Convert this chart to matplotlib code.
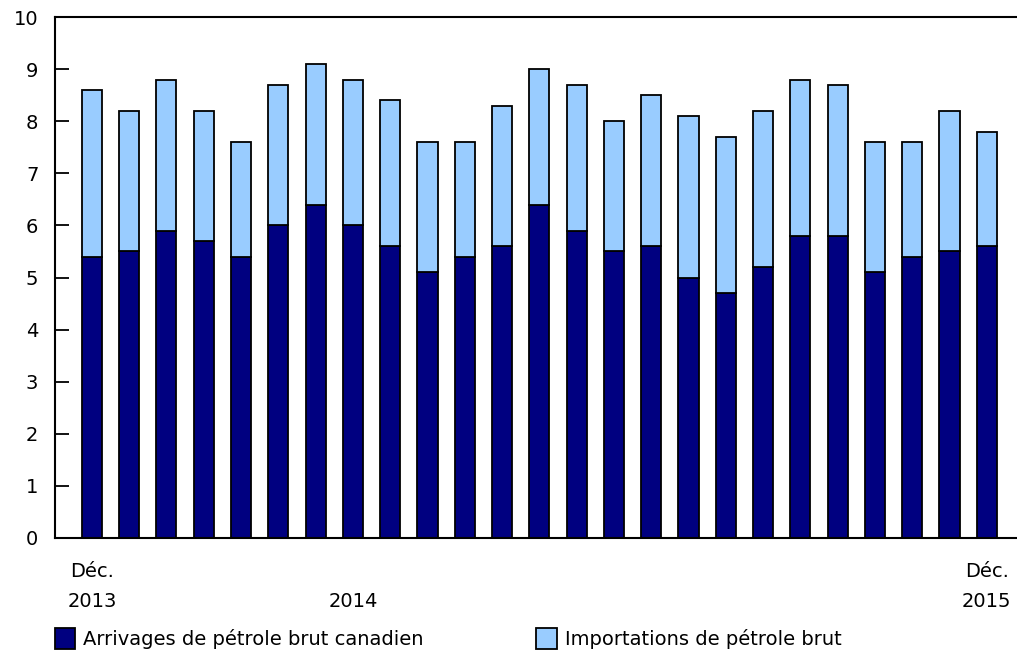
import matplotlib.pyplot as plt
import numpy as np

# Millions de mètres cubes, déc. 2013 à déc. 2015
total = [8.6, 8.2, 8.8, 8.2, 7.6, 8.7, 9.1, 8.8, 8.4, 7.6, 7.6, 8.3, 9.0,
         8.7, 8.0, 8.5, 8.1, 7.7, 8.2, 8.8, 8.7, 7.6, 7.6, 8.2, 7.8]
canadien = [5.4, 5.5, 5.9, 5.7, 5.4, 6.0, 6.4, 6.0, 5.6, 5.1, 5.4, 5.6, 6.4,
            5.9, 5.5, 5.6, 5.0, 4.7, 5.2, 5.8, 5.8, 5.1, 5.4, 5.5, 5.6]
importations = [round(t - c, 1) for t, c in zip(total, canadien)]
tick_pos = [0, 7, 24]
tick_labels = ["Déc.\n2013", "\n2014", "Déc.\n2015"]

plt.rcParams['font.family'] = 'DejaVu Sans'
fig = plt.figure(figsize=(10.17, 6.6), dpi=100)
ax = fig.add_axes([0.054, 0.185, 0.946, 0.789])

x = np.arange(len(total))
ax.bar(x, canadien, width=0.54, color="#000080", edgecolor="black", linewidth=1.3,
       label="Arrivages de pétrole brut canadien")
ax.bar(x, importations, bottom=canadien, width=0.54, color="#99CCFF", edgecolor="black",
       linewidth=1.3, label="Importations de pétrole brut")

ax.set_xlim(-0.99, 24.81)
ax.set_ylim(0, 10)
ax.set_yticks(range(0, 11))
ax.tick_params(axis="y", direction="in", length=10, width=1.3, labelsize=14, pad=12)
ax.set_xticks(tick_pos)
ax.set_xticklabels(tick_labels, fontsize=14, linespacing=1.75)
ax.tick_params(axis="x", length=0, pad=17)
ax.spines["right"].set_visible(False)
for s in ["left", "top", "bottom"]:
    ax.spines[s].set_linewidth(1.5)

fig.legend(*ax.get_legend_handles_labels(), loc="center left",
           bbox_to_anchor=(0.054, 0.032), ncol=2, frameon=False,
           fontsize=14, handlelength=1.05, handleheight=1.3, handletextpad=0.4,
           columnspacing=5.8, borderaxespad=0, borderpad=0)

fig.savefig("out.png", dpi=100)
